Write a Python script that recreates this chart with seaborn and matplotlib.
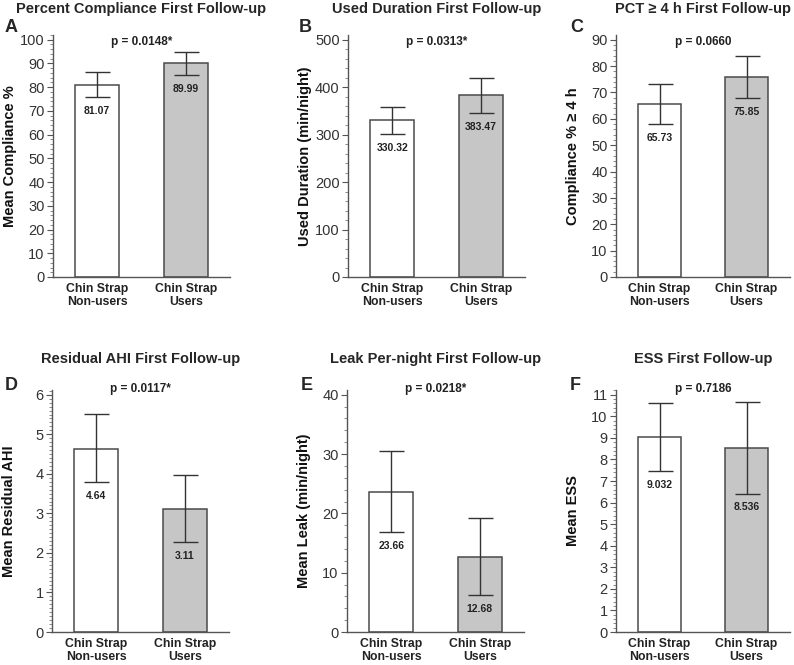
import numpy as np
import pandas as pd
import matplotlib
matplotlib.use('Agg')
import matplotlib.pyplot as plt
import seaborn as sns
from matplotlib.ticker import MultipleLocator, AutoMinorLocator

groups = ['Chin Strap\nNon-users', 'Chin Strap\nUsers']

titles = ['Percent Compliance First Follow-up', 'Used Duration First Follow-up',
          'PCT \u2265 4 h First Follow-up', 'Residual AHI First Follow-up',
          'Leak Per-night First Follow-up', 'ESS First Follow-up']
letters = ['A', 'B', 'C', 'D', 'E', 'F']
ylabels = ['Mean Compliance %', 'Used Duration (min/night)', 'Compliance % \u2265 4 h',
           'Mean Residual AHI', 'Mean Leak (min/night)', 'Mean ESS']
pvalues = ['p = 0.0148*', 'p = 0.0313*', 'p = 0.0660',
           'p = 0.0117*', 'p = 0.0218*', 'p = 0.7186']

means_a = [81.07, 89.99]
means_b = [330.32, 383.47]
means_c = [65.73, 75.85]
means_d = [4.64, 3.11]
means_e = [23.66, 12.68]
means_f = [9.032, 8.536]
means = [means_a, means_b, means_c, means_d, means_e, means_f]

# error bar ends (low, high)
err_low = [[76.0, 85.0], [301.0, 345.0], [58.0, 68.0],
           [3.80, 2.28], [16.8, 6.3], [7.45, 6.42]]
err_high = [[86.5, 95.0], [359.0, 420.0], [73.2, 83.7],
            [5.52, 3.96], [30.5, 19.2], [10.62, 10.67]]
labels = [['81.07', '89.99'], ['330.32', '383.47'], ['65.73', '75.85'],
          ['4.64', '3.11'], ['23.66', '12.68'], ['9.032', '8.536']]

ymax = [100, 500, 90, 6, 40, 11]
ystep = [10, 100, 10, 1, 10, 1]
yminor = [5, 5, 5, 10, 5, 5]

sns.set_style('ticks')
plt.rcParams['font.family'] = ['Liberation Sans Narrow', 'Liberation Sans', 'DejaVu Sans']

W, H = 794, 665
fig = plt.figure(figsize=(W / 100, H / 100), dpi=100)

# axes boxes in pixels: left spine, top, width, height
boxes = [(53, 35, 177, 242), (348, 35, 177, 242), (616, 35, 174, 242),
         (52, 390, 177, 242), (347, 390, 177, 242), (616, 390, 174, 242)]
letter_pos = [(11, 28), (305, 28), (577, 28), (11, 385), (307, 385), (575, 385)]

edge = '#4a4a4a'
for i in range(6):
    l, t, w, h = boxes[i]
    ax = fig.add_axes([l / W, 1 - (t + h) / H, w / W, h / H])
    df = pd.DataFrame({'group': groups, 'value': means[i]})
    sns.barplot(data=df, x='group', y='value', hue='group',
                palette=['white', '#c6c6c6'], edgecolor=edge, linewidth=1.1,
                width=0.5, legend=False, ax=ax)
    m = np.array(means[i])
    lo = m - np.array(err_low[i])
    hi = np.array(err_high[i]) - m
    ax.errorbar([0, 1], m, yerr=[lo, hi], fmt='none', ecolor='#333333',
                elinewidth=1.0, capsize=9, capthick=1.0)
    for j in range(2):
        ax.annotate(labels[i][j], (j, err_low[i][j]), xytext=(0, -10),
                    textcoords='offset points', ha='center', va='center',
                    fontsize=7.5, fontweight='bold', color='#222222')
    ax.set_xlim(-0.5, 1.5)
    ax.set_ylim(0, ymax[i] * 1.02)
    ax.yaxis.set_major_locator(MultipleLocator(ystep[i]))
    ax.yaxis.set_minor_locator(AutoMinorLocator(yminor[i]))
    ax.tick_params(axis='y', which='major', length=4, width=0.8, color='#555555',
                   labelsize=10.5, labelcolor='#333333', pad=2)
    ax.tick_params(axis='y', which='minor', length=2.5, width=0.6, color='#777777')
    ax.tick_params(axis='x', length=0, pad=4)
    for lab in ax.get_xticklabels():
        lab.set_fontweight('bold')
        lab.set_fontsize(8.8)
        lab.set_color('#222222')
        lab.set_linespacing(1.15)
    ax.set_xlabel('')
    ax.set_ylabel(ylabels[i], fontsize=10.5, fontweight='bold', color='#111111')
    ax.yaxis.set_label_coords(-0.205, 0.5)
    sns.despine(ax=ax)
    for s in ['left', 'bottom']:
        ax.spines[s].set_color('#555555')
        ax.spines[s].set_linewidth(1.0)
    pad = 16 if i < 3 else 19.5
    ax.set_title(titles[i], fontsize=10.5, fontweight='bold', pad=pad)
    py = 0.972 if i < 3 else 1.004
    ax.text(0.5, py, pvalues[i], transform=ax.transAxes, ha='center', va='center',
            fontsize=8.5, fontweight='bold', color='#222222')
    fig.text(letter_pos[i][0] / W, 1 - letter_pos[i][1] / H, letters[i],
             fontsize=13, fontweight='bold', ha='center', va='center')

fig.savefig('out.png', dpi=100)
